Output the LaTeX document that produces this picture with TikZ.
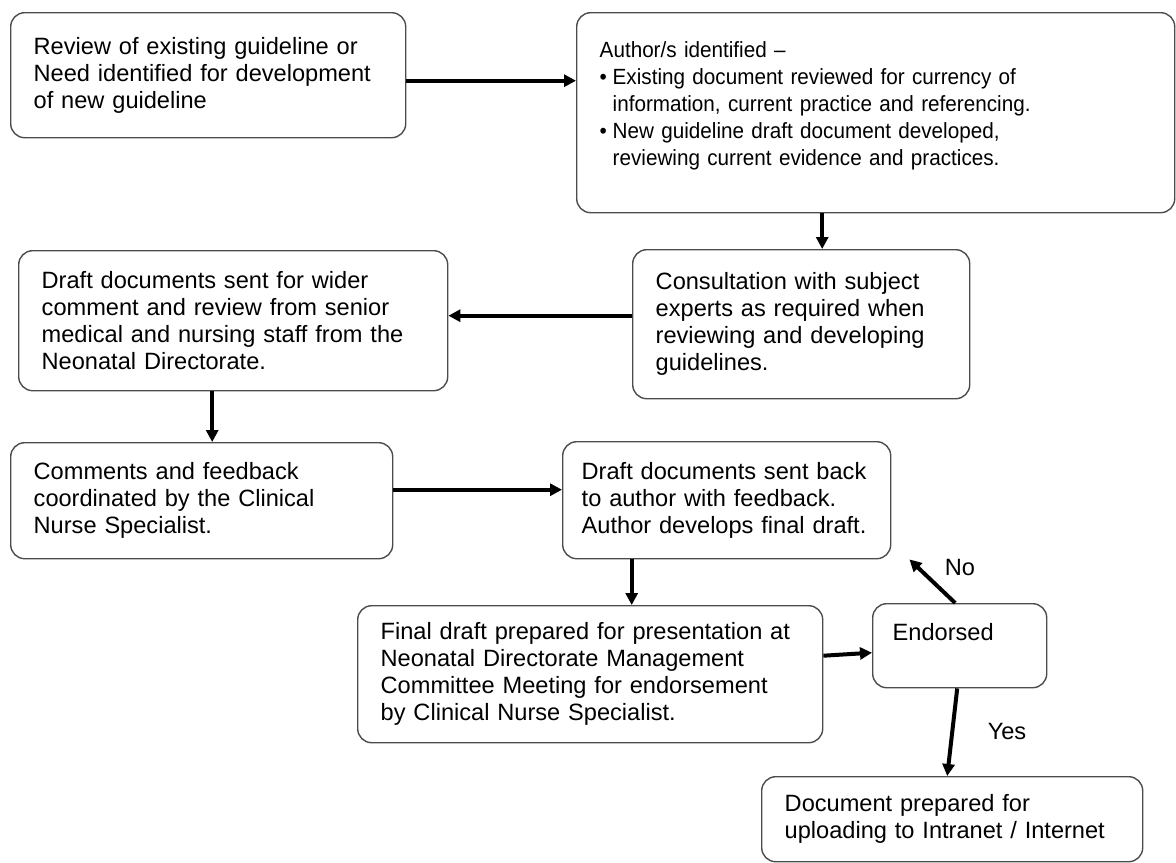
\documentclass[tikz,border=0pt]{standalone}
\usepackage{fontspec}
\setmainfont{Liberation Sans}
\newfontfamily\narrowsans[FakeStretch=0.94]{Liberation Sans}
\usepackage{tikz}
\usetikzlibrary{arrows.meta}

\begin{document}
\begin{tikzpicture}[x=0.5pt, y=-0.5pt,
    stage/.style={draw=black!70, line width=0.7pt, rounded corners=7pt,
        anchor=north west, align=left, inner xsep=11.5pt,
        font=\fontsize{11.8pt}{13.5pt}\selectfont},
    flow/.style={line width=2pt, -{Triangle[length=6pt,width=6pt]}},
    lbl/.style={font=\fontsize{11.8pt}{13.5pt}\selectfont}]
    \useasboundingbox (0,0) rectangle (1176,862);

    \node[stage, text width=174.5pt, minimum height=62.5pt] (review) at (10,12)
        {Review of existing guideline or\\Need identified for development\\of new guideline};
    \node[stage, text width=276pt, minimum height=100pt, font=\narrowsans\fontsize{11pt}{13.5pt}\selectfont] (author) at (576,12)
        {Author/s identified –\\
         \makebox[6.5pt][l]{\textbullet}Existing document reviewed for currency of\\
         \hspace*{6.5pt}information, current practice and referencing.\\
         \makebox[6.5pt][l]{\textbullet}New guideline draft document developed,\\
         \hspace*{6.5pt}reviewing current evidence and practices.\\[-4pt]\mbox{}};
    \node[stage, text width=145.5pt, minimum height=74.5pt] (consult) at (632,249)
        {Consultation with subject\\experts as required when\\reviewing and developing\\guidelines.};
    \node[stage, text width=191.5pt, minimum height=70pt] (draftdocs) at (18,250)
        {Draft documents sent for wider\\comment and review from senior\\medical and nursing staff from the\\Neonatal Directorate.};
    \node[stage, text width=168pt, minimum height=58pt] (comments) at (10,442)
        {Comments and feedback\\coordinated by the Clinical\\Nurse Specialist.};
    \node[stage, text width=145pt, minimum height=58.5pt, inner xsep=9.5pt] (feedback) at (562,441)
        {Draft documents sent back\\to author with feedback.\\Author develops final draft.};
    \node[stage, text width=209.5pt, minimum height=68.5pt] (final) at (357,605)
        {Final draft prepared for presentation at\\Neonatal Directorate Management\\Committee Meeting for endorsement\\by Clinical Nurse Specialist.};
    \node[stage, text width=67pt, minimum height=42pt, inner xsep=10pt] (endorsed) at (872,603)
        {Endorsed\\ \mbox{}};
    \node[stage, text width=167.5pt, minimum height=42.5pt] (upload) at (761,776)
        {Document prepared for\\uploading to Intranet / Internet};

    \draw[flow] ([yshift=-2.75pt]review.east) -- ([yshift=-2.75pt]review.east -| author.west);
    \draw[flow] ([xshift=-26.75pt]author.south) -- ([xshift=-26.75pt]author.south |- consult.north);
    \draw[flow] ([yshift=4.25pt]consult.west) -- ([yshift=4.25pt]consult.west -| draftdocs.east);
    \draw[flow] ([xshift=-10.5pt]draftdocs.south) -- ([xshift=-10.5pt]draftdocs.south |- comments.north);
    \draw[flow] ([yshift=5.5pt]comments.east) -- ([yshift=5.5pt]comments.east -| feedback.west);
    \draw[flow] ([xshift=-47.5pt]feedback.south) -- ([xshift=-47.5pt]feedback.south |- final.north);
    \draw[flow] ([yshift=9.25pt]final.east) -- ([yshift=-3.5pt]endorsed.west);
    \draw[flow] ([xshift=-2.25pt]endorsed.north) -- ([xshift=9pt]feedback.south east);
    \draw[flow] ([xshift=-1.25pt]endorsed.south) -- ([xshift=-2.5pt]upload.north);

    \node[lbl] (no) at (960,567) {No};
    \node[lbl] (yes) at (1007,731) {Yes};
\end{tikzpicture}
\end{document}
